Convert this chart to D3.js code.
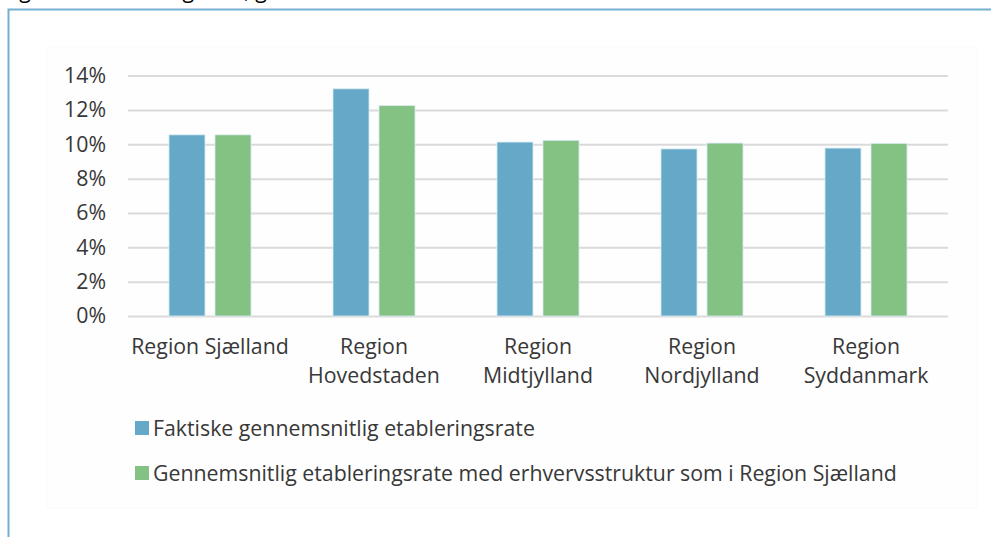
<!DOCTYPE html>
<html>
<head>
<meta charset="utf-8">
<script src="https://cdn.jsdelivr.net/npm/d3@7"></script>
<style>
  body { margin: 0; background: #fff; }
  svg text { font-family: "Open Sans", "Noto Sans", sans-serif; fill: #383838; }
</style>
</head>
<body>
<svg id="chart" width="991" height="537"></svg>
<script>
  // data
  var regions = ["Region Sjælland", "Region Hovedstaden", "Region Midtjylland", "Region Nordjylland", "Region Syddanmark"];
  var regionLines = [["Region Sjælland"], ["Region", "Hovedstaden"], ["Region", "Midtjylland"], ["Region", "Nordjylland"], ["Region", "Syddanmark"]];
  var seriesNames = ["Faktiske gennemsnitlig etableringsrate", "Gennemsnitlig etableringsrate med erhvervsstruktur som i Region Sjælland"];
  var faktiske = [0.1055, 0.1323, 0.1013, 0.0973, 0.0978];
  var medStruktur = [0.1055, 0.1225, 0.1023, 0.1007, 0.1005];
  var yTicks = [0, 0.02, 0.04, 0.06, 0.08, 0.10, 0.12, 0.14];
  var colors = ["#66a8c8", "#84c284"];

  var fontSize = "21.3px";
  var svg = d3.select("#chart");

  // cut-off caption line above the frame
  svg.append("text")
      .attr("x", 3).attr("y", -2)
      .style("font-size", fontSize).style("fill", "#000")
      .text("Figur 3.2 Etableringsrate, gennemsnit");

  // frame
  svg.append("rect")
      .attr("x", 8.5).attr("y", 9.5)
      .attr("width", 1000).attr("height", 600)
      .attr("fill", "none").attr("stroke", "#74afcf").attr("stroke-width", 2);

  // chart area
  svg.append("rect")
      .attr("x", 47).attr("y", 47).attr("width", 930).attr("height", 461)
      .attr("fill", "#fefefe").attr("stroke", "#fafafa");

  var x0 = d3.scaleBand().domain(regions).range([128, 948]);
  var x1 = d3.scaleBand().domain([0, 1]).range([41, 123]).paddingInner(10 / 46);
  var y = d3.scaleLinear().domain([0, 0.14]).range([316, 75.6]);

  // grid
  svg.append("g")
      .attr("transform", "translate(128,0)")
      .call(d3.axisLeft(y).tickValues(yTicks).tickSize(-820).tickFormat(""))
      .call(function (g) {
          g.select(".domain").remove();
          g.selectAll("line").attr("stroke", "#dadada").attr("stroke-width", 2);
      });

  // y labels
  svg.append("g")
      .attr("transform", "translate(106,0)")
      .call(d3.axisLeft(y).tickValues(yTicks).tickSize(0).tickPadding(0)
          .tickFormat(function (d) { return Math.round(d * 100) + "%"; }))
      .call(function (g) {
          g.select(".domain").remove();
          g.selectAll("text").style("font-size", fontSize).attr("fill", null);
      });

  var data = [faktiske, medStruktur];

  var groups = svg.append("g").selectAll("g")
      .data(regions)
      .join("g")
      .attr("transform", function (d) { return "translate(" + x0(d) + ",0)"; });

  groups.selectAll("rect")
      .data(function (d, i) { return [0, 1].map(function (s) { return {s: s, v: data[s][i]}; }); })
      .join("rect")
      .attr("x", function (d) { return x1(d.s); })
      .attr("width", x1.bandwidth())
      .attr("y", function (d) { return y(d.v); })
      .attr("height", function (d) { return y(0) - y(d.v); })
      .attr("fill", function (d) { return colors[d.s]; })
      .attr("stroke", "#d8ecf2").attr("stroke-width", 0.8);

  // category labels
  groups.append("text")
      .attr("text-anchor", "middle")
      .style("font-size", fontSize)
      .selectAll("tspan")
      .data(function (d, i) { return regionLines[i]; })
      .join("tspan")
      .attr("x", x0.bandwidth() / 2)
      .attr("y", function (d, i) { return 354 + i * 29; })
      .text(function (d) { return d; });

  // legend
  var legend = svg.append("g").selectAll("g")
      .data(seriesNames)
      .join("g")
      .attr("transform", function (d, i) { return "translate(135," + (428 + i * 45) + ")"; });

  legend.append("rect")
      .attr("x", 0).attr("y", -7).attr("width", 14).attr("height", 14)
      .attr("fill", function (d, i) { return colors[i]; });

  legend.append("text")
      .attr("x", 18).attr("y", 7.5)
      .style("font-size", fontSize)
      .text(function (d) { return d; });
</script>
</body>
</html>
